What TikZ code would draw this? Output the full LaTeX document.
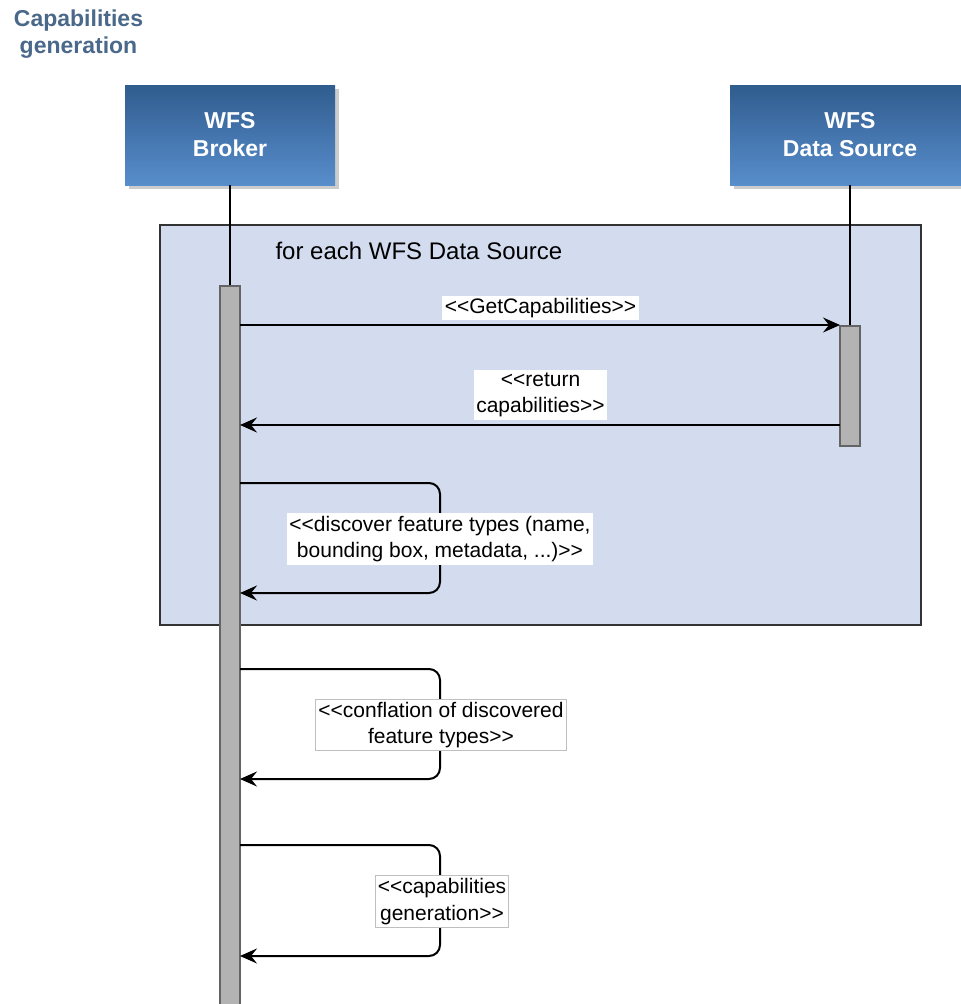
\documentclass[tikz,border=0pt]{standalone}
\usepackage{fontspec}
\setmainfont{Liberation Sans}
\usetikzlibrary{arrows.meta}
\definecolor{titleblue}{RGB}{74,104,138}
\definecolor{boxtop}{RGB}{48,92,142}
\definecolor{boxbottom}{RGB}{88,142,204}
\definecolor{framefill}{RGB}{211,220,239}
\definecolor{barfill}{RGB}{179,179,179}
\definecolor{bardraw}{RGB}{100,100,100}
\tikzset{
  actor/.style={rectangle, draw=none, top color=boxtop, bottom color=boxbottom,
    text=white, align=center, font=\fontsize{23}{28}\selectfont\bfseries,
    minimum height=100pt, inner sep=0pt},
  actorshadow/.style={fill=black!20, draw=none},
  lifeline/.style={draw=black, line width=1.5pt},
  actbar/.style={rectangle, fill=barfill, draw=bardraw, line width=1.5pt,
    minimum width=20pt, inner sep=0pt},
  msg/.style={draw=black, line width=2pt, -{Stealth[length=17pt,width=15pt,inset=6pt]}},
  selfmsg/.style={msg, rounded corners=11pt},
  lbl/.style={fill=white, align=center, inner sep=2.5pt,
    font=\fontsize{21}{26.5}\selectfont},
  lblbox/.style={lbl, draw=black!25, line width=1pt},
}
\begin{document}
\begin{tikzpicture}[x=1pt,y=-1pt]
\useasboundingbox (0,0) rectangle (961,1004);
\clip (0,0) rectangle (961,1004);

% title
\node[text=titleblue, align=center, font=\fontsize{23}{27}\selectfont\bfseries]
  (title) at (78.5,34) {Capabilities\\generation};

% combined fragment
\node[rectangle, fill=framefill, draw=black!80, line width=2pt,
  minimum width=761pt, minimum height=400pt, inner sep=0pt]
  (frame) at (540.5,425) {};
\node[anchor=west, font=\fontsize{24}{28}\selectfont] (framelbl)
  at (272,251) {for each WFS Data Source};

% actors with drop shadows
\fill[actorshadow] (129,89) rectangle (339,189);
\node[actor, minimum width=210pt] (broker) at (230,135) {WFS\\Broker};
\fill[actorshadow] (734,89) rectangle (974,189);
\node[actor, minimum width=240pt] (source) at (850,135) {WFS\\Data Source};

% activation bars
\node[actbar, minimum height=730pt, anchor=north] (brokerbar) at (230,285) {};
\node[actbar, minimum height=120pt, anchor=north] (sourcebar) at (850,325) {};

% lifelines
\draw[lifeline] (broker.south) -- (brokerbar.north);
\draw[lifeline] (source.south) -- (sourcebar.north);

% message end points
\coordinate (m1a) at (240,325);
\coordinate (m1b) at (840,325);
\coordinate (m2a) at (840,425);
\coordinate (m2b) at (240,425);
\coordinate (s1a) at (240,483);
\coordinate (s1b) at (240,593);
\coordinate (s2a) at (240,669);
\coordinate (s2b) at (240,779);
\coordinate (s3a) at (240,845);
\coordinate (s3b) at (240,956);

% messages
\draw[msg] (m1a) -- (m1b);
\draw[msg] (m2a) -- (m2b);
\draw[selfmsg] (s1a) -- ++(200,0) |- (s1b);
\draw[selfmsg] (s2a) -- ++(200,0) |- (s2b);
\draw[selfmsg] (s3a) -- ++(200,0) |- (s3b);

% message labels
\node[lbl] (l1) at (540.5,308) {<{}<GetCapabilities>{}>};
\node[lbl] (l2) at (540.5,395) {<{}<return\\capabilities>{}>};
\node[lbl] (l3) at (440,539) {<{}<discover feature types (name,\\bounding box, metadata, ...)>{}>};
\node[lblbox] (l4) at (441,725) {<{}<conflation of discovered\\feature types>{}>};
\node[lblbox] (l5) at (442,901.5) {<{}<capabilities\\generation>{}>};
\end{tikzpicture}
\end{document}
